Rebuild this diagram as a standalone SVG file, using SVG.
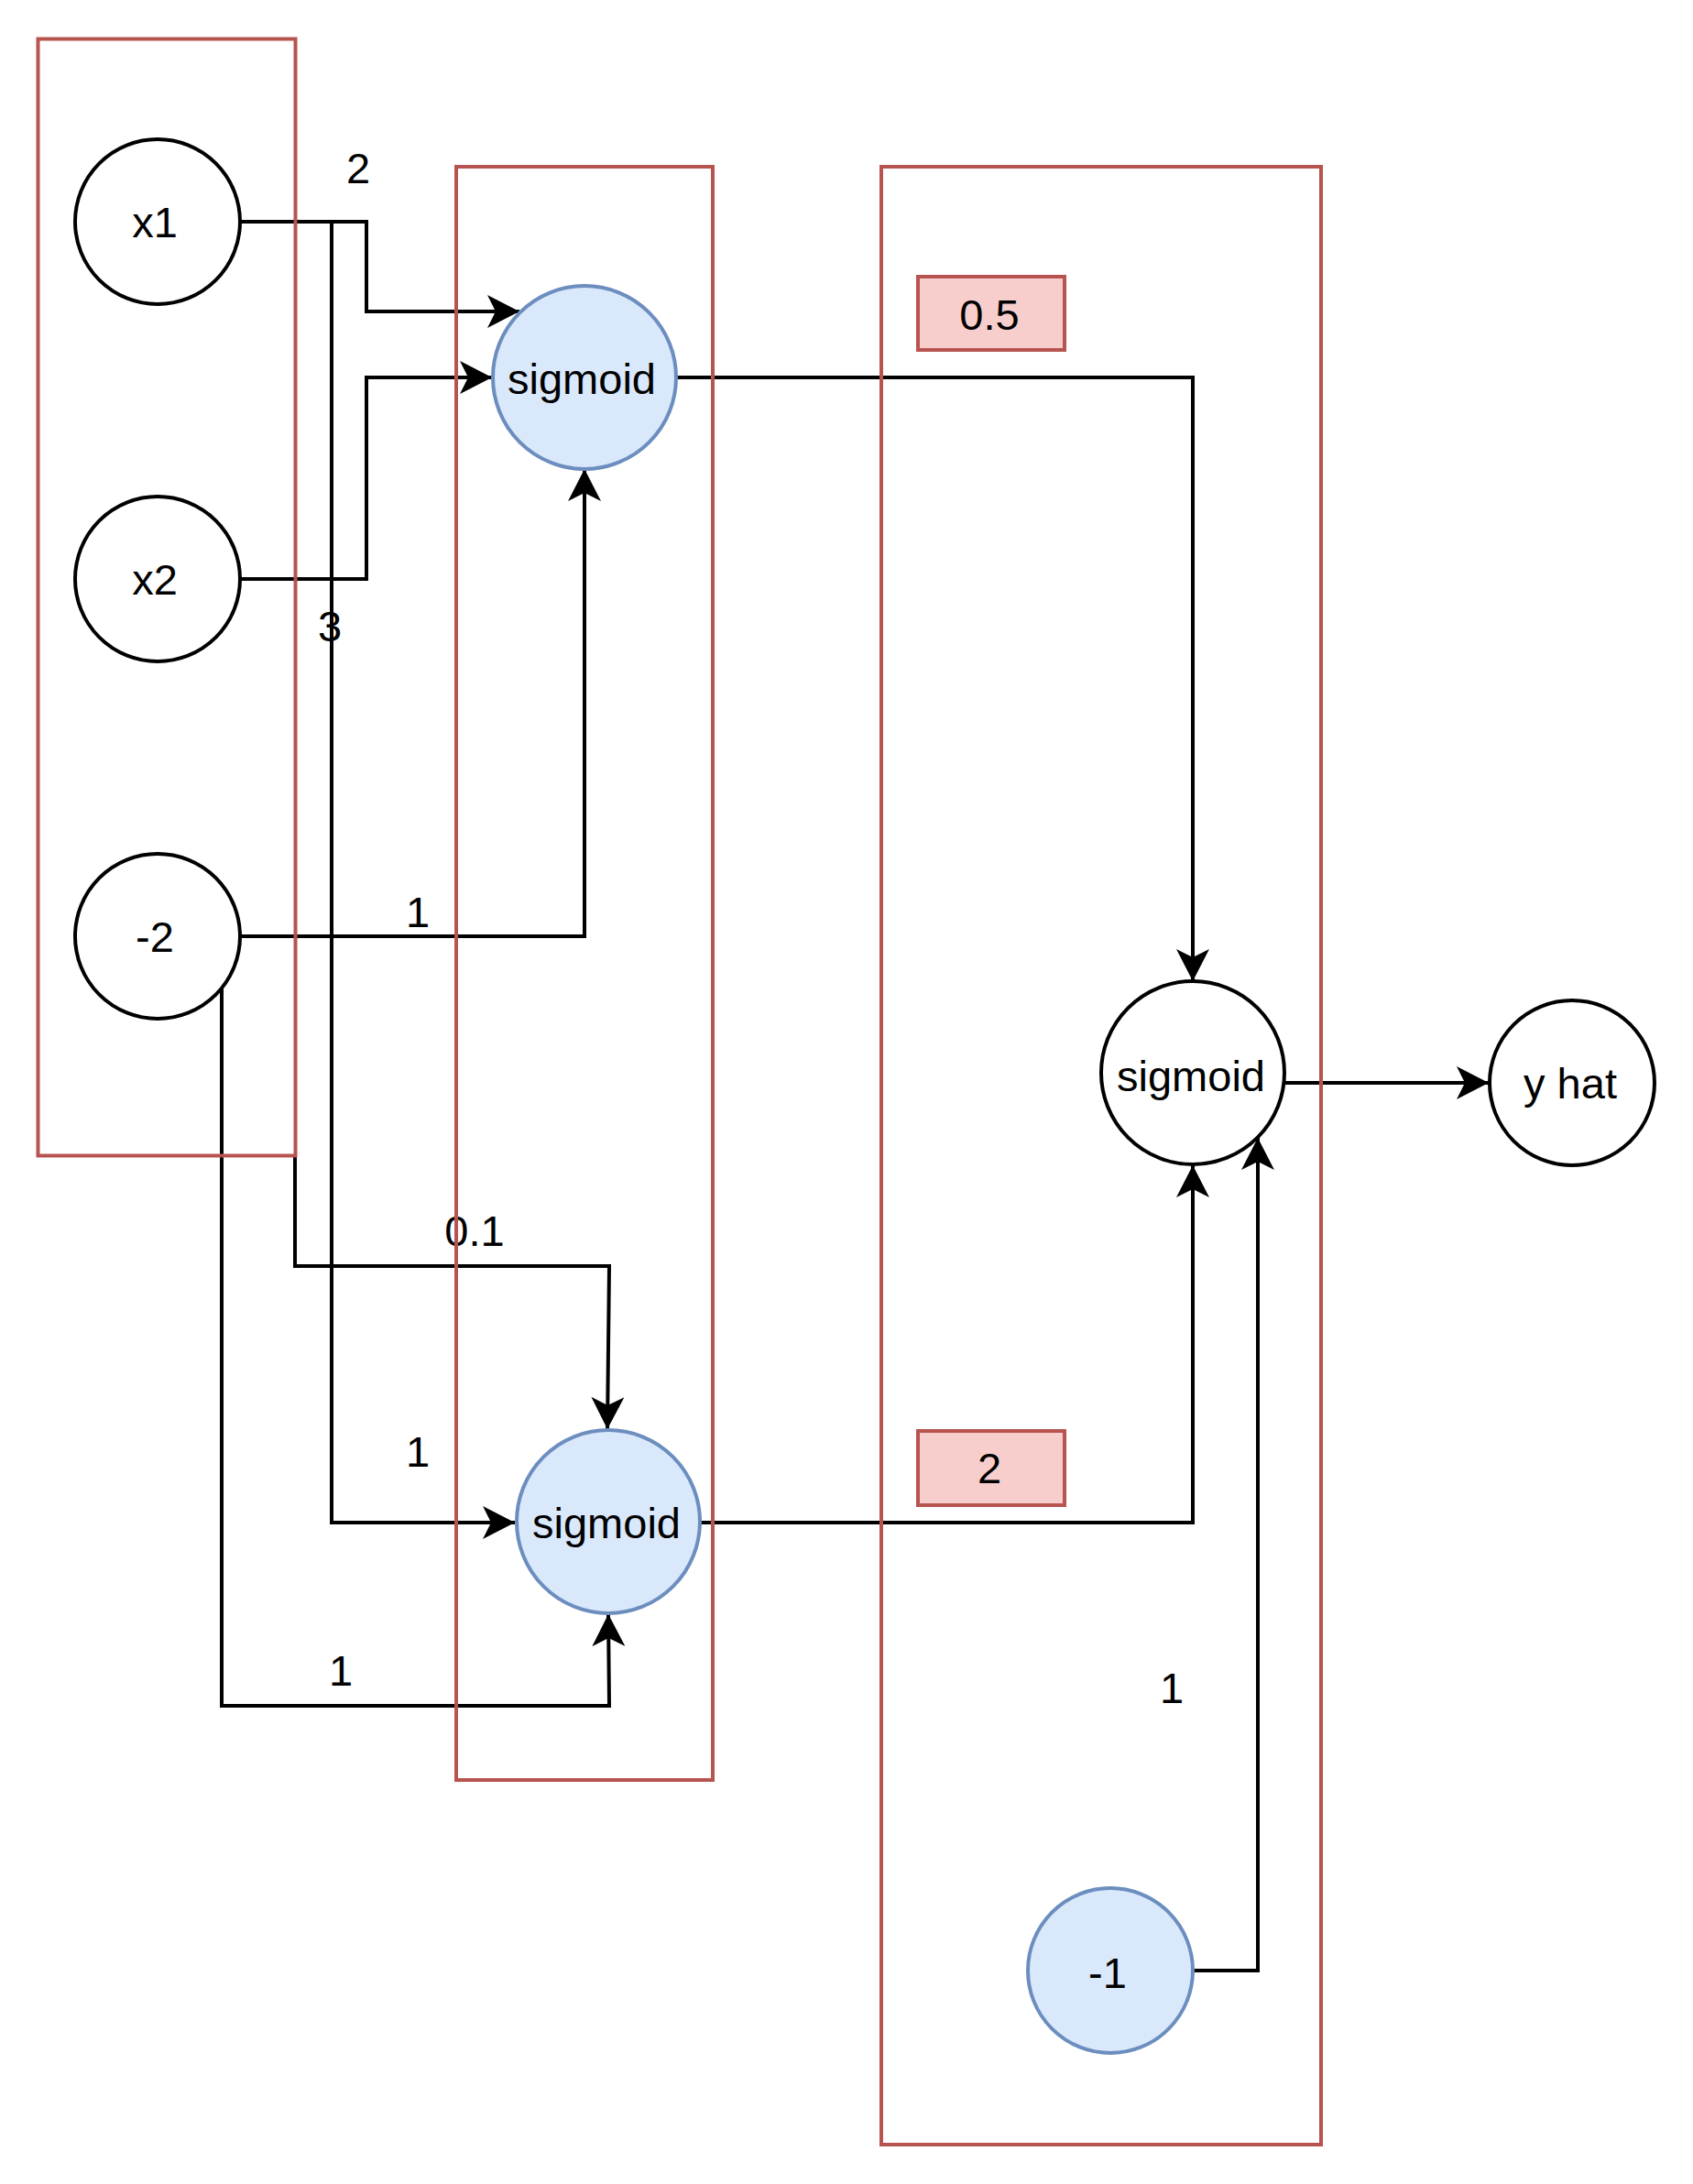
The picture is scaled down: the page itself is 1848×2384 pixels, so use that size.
<svg xmlns="http://www.w3.org/2000/svg" width="1848" height="2384" viewBox="0 0 1848 2384">
<style>
text{font-family:"Liberation Sans",Arial,Helvetica,sans-serif;font-size:47px;fill:#000;text-anchor:middle}
.edge{fill:none;stroke:#000;stroke-width:4}
.arr{marker-end:url(#arrow)}
.plain{fill:#fff;stroke:#000;stroke-width:4}
.blue{fill:#dae8fc;stroke:#6c8ebf;stroke-width:4}
.layer{fill:none;stroke:#b85450;stroke-width:4}
.wbox{fill:#f8cecc;stroke:#b85450;stroke-width:4}
</style>
<defs>
<marker id="arrow" markerUnits="userSpaceOnUse" markerWidth="36" markerHeight="36" viewBox="0 0 36 36" refX="35" refY="18" orient="auto">
<path d="M35,18 L0,0 L9,18 L0,36 Z" fill="#000"/>
</marker>
</defs>
<rect width="1848" height="2384" fill="#fff"/>
<g id="connectors">
<path id="e-x1-s1" class="edge arr" d="M263,242 H400 V340 H567"/>
<path id="e-x1-s2" class="edge arr" d="M263,242 H362 V1662 H562"/>
<path id="e-x2-s1" class="edge arr" d="M263,632 H400 V412 H537"/>
<path id="e-m2-s1" class="edge arr" d="M263,1022 H638 V512"/>
<path id="e-m2-s2" class="edge arr" d="M242,1079 V1862 H665 L664,1762"/>
<path id="e-01-s2" class="edge arr" d="M322,1261 V1382 H665 L663,1560"/>
<path id="e-s1-s3" class="edge arr" d="M738,412 H1302 V1071"/>
<path id="e-s2-s3" class="edge arr" d="M764,1662 H1302 V1272"/>
<path id="e-m1-s3" class="edge arr" d="M1302,2151 H1373 V1242"/>
<path id="e-s3-yhat" class="edge arr" d="M1401,1182 H1625"/>
<text x="391" y="200">2</text>
<text x="360" y="700">3</text>
<text x="456" y="1012">1</text>
<text x="518" y="1360">0.1</text>
<text x="456" y="1601">1</text>
<text x="372" y="1840">1</text>
<text x="1279" y="1859">1</text>
</g>
<g id="node-x1"><circle class="plain" cx="172" cy="242" r="90"/><text x="169" y="259">x1</text></g>
<g id="node-x2"><circle class="plain" cx="172" cy="632" r="90"/><text x="169" y="649">x2</text></g>
<g id="node-m2"><circle class="plain" cx="172" cy="1022" r="90"/><text x="169" y="1039">-2</text></g>
<g id="node-s1"><circle class="blue" cx="638" cy="412" r="100"/><text x="635" y="430">sigmoid</text></g>
<g id="node-s2"><circle class="blue" cx="664" cy="1661" r="100"/><text x="662" y="1679">sigmoid</text></g>
<g id="node-s3"><circle class="plain" cx="1302" cy="1171" r="100"/><text x="1300" y="1191">sigmoid</text></g>
<g id="node-yhat"><circle class="plain" cx="1716" cy="1182" r="90"/><text x="1714" y="1199">y hat</text></g>
<g id="node-m1"><circle class="blue" cx="1212" cy="2151" r="90"/><text x="1209" y="2170">-1</text></g>
<g id="w-05"><rect class="wbox" x="1002" y="302" width="160" height="80"/><text x="1080" y="360">0.5</text></g>
<g id="w-2"><rect class="wbox" x="1002" y="1562" width="160" height="81"/><text x="1080" y="1619">2</text></g>
<g id="layer-input"><rect class="layer" x="41.5" y="42.5" width="281" height="1219"/></g>
<g id="layer-hidden"><rect class="layer" x="498" y="182" width="280" height="1761"/></g>
<g id="layer-output"><rect class="layer" x="962" y="182" width="480" height="2159"/></g>
</svg>
